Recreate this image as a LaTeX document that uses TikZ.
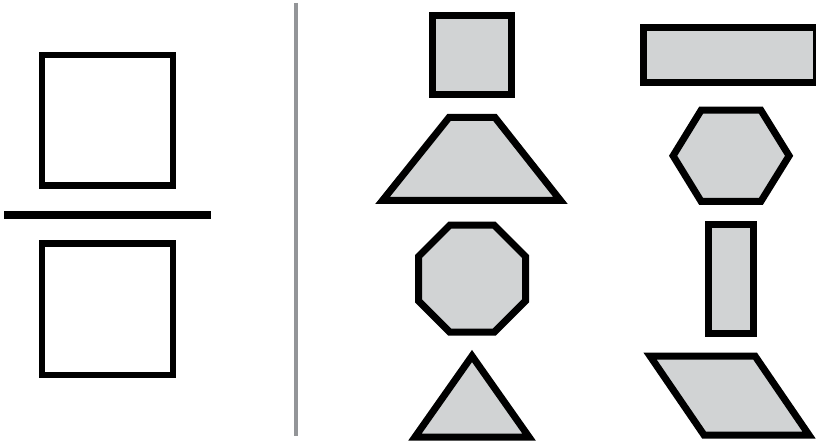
\documentclass[tikz,border=0pt]{standalone}
\definecolor{shapefill}{RGB}{209,211,212}
\definecolor{divider}{RGB}{147,149,152}
\begin{document}
\begin{tikzpicture}[x=1pt,y=-1pt,
  outlinebox/.style={draw=black,line width=6.5pt,fill=white},
  grayshape/.style={draw=black,line width=7pt,fill=shapefill,line join=miter},
  divline/.style={draw=divider,line width=4pt}]
\useasboundingbox (0,0) rectangle (816,446);
\clip (0,0) rectangle (816,446);
% left: fraction of two squares
\draw[outlinebox] (42.2,55) rectangle (173,185.7);
\draw[black,line width=8pt] (4,215) -- (211,215);
\draw[outlinebox] (42.2,243.5) rectangle (173,375);
% divider
\draw[divline] (296,3) -- (296,436);
% middle column
\draw[grayshape] (432.5,16) rectangle (511.5,95);
\draw[grayshape] (449,117.5) -- (495,117.5) -- (560.5,200.5) -- (382.5,200.5) -- cycle;
\draw[grayshape] (449.8,225.2) -- (494.2,225.2) -- (525.5,256.5) -- (525.5,300.9)
  -- (494.2,332.2) -- (449.8,332.2) -- (418.5,300.9) -- (418.5,256.5) -- cycle;
\draw[grayshape] (472,356) -- (529,437) -- (415,437) -- cycle;
% right column
\draw[grayshape] (643.5,28) rectangle (816.5,83);
\draw[grayshape] (701.2,110.1) -- (760.8,110.1) -- (789.1,155.8) -- (760.8,201.5)
  -- (701.2,201.5) -- (673.1,155.8) -- cycle;
\draw[grayshape] (708.5,224.5) rectangle (753,333);
\draw[grayshape] (650,356) -- (755,356) -- (809,435) -- (704,435) -- cycle;
\end{tikzpicture}
\end{document}
